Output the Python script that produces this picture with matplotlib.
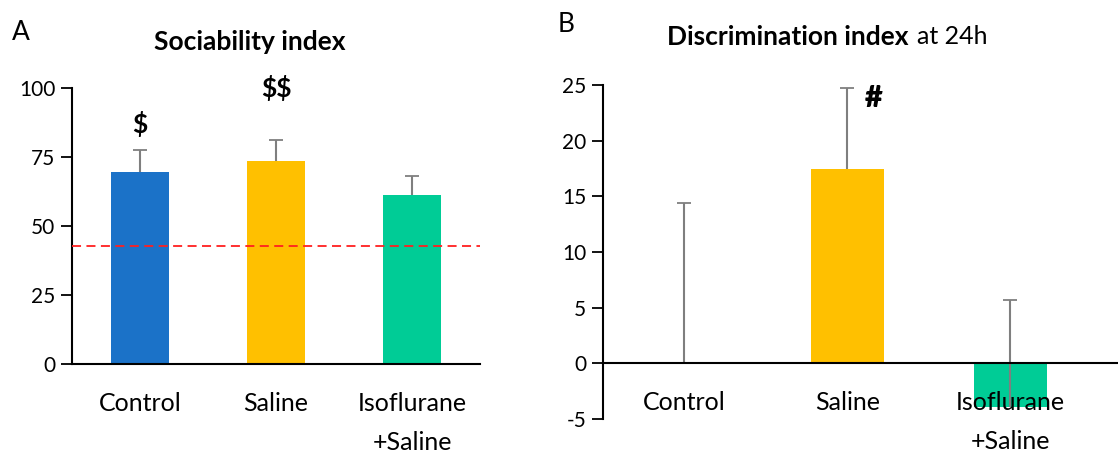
import matplotlib
matplotlib.use("Agg")
import matplotlib.pyplot as plt

plt.rcParams['font.family'] = ['Lato', 'DejaVu Sans']
plt.rcParams['text.parse_math'] = False
plt.rcParams['axes.unicode_minus'] = False

categories = ["Control", "Saline", "Isoflurane\n+Saline"]
colors = ["#1B72C8", "#FFC000", "#00CC96"]

soc_values = [69.6, 73.7, 61.2]
soc_err = [7.9, 7.5, 7.0]
soc_chance = 42.8
soc_marks = ["$", "$$", ""]
soc_mark_y = [87, 100, 0]

disc_values = [0.0, 17.45, -3.9]
disc_err = [14.4, 7.25, 9.55]
disc_marks = ["", "#", ""]
disc_mark_y = [0, 23.8, 0]

fig = plt.figure(figsize=(11.18, 4.53), dpi=100)


def upper_err(ax, xs, vals, errs):
    _, caps, _ = ax.errorbar(xs, vals, yerr=[[0]*len(vals), errs], fmt='none',
                             ecolor='#7F7F7F', elinewidth=1.5, capsize=5,
                             capthick=1.3, zorder=3)
    caps[0].set_visible(False)


def style(ax):
    for s in ['top', 'right']:
        ax.spines[s].set_visible(False)
    for s in ['left', 'bottom']:
        ax.spines[s].set_linewidth(1.5)
    ax.tick_params(axis='y', labelsize=15, length=8, width=1.3, pad=4, direction='out')
    ax.tick_params(axis='x', length=0, labelsize=18, pad=20)
    ax.set_xticks(list(range(len(categories))))
    ax.set_xticklabels(categories, linespacing=1.85, va='top')


x = list(range(len(categories)))

# Panel A
axA = fig.add_axes([72/1118, 1-364/453, (480-72)/1118, (364-88)/453])
axA.bar(x, soc_values, width=0.43, color=colors, zorder=1)
upper_err(axA, x, soc_values, soc_err)
axA.axhline(soc_chance, color='#FF2020', ls=(0, (5, 3)), lw=1.3, zorder=4)
axA.set_xlim(-0.5, 2.5)
axA.set_ylim(0, 100)
axA.set_yticks([0, 25, 50, 75, 100])
style(axA)
for i, m in enumerate(soc_marks):
    if m:
        axA.text(i, soc_mark_y[i], m, ha='center', va='center', fontsize=19, fontweight='bold')
fig.text(250/1118, 1-42/453, "Sociability index", ha='center', va='center',
         fontsize=19, fontweight='bold')
fig.text(21/1118, 1-32/453, "A", ha='center', va='center', fontsize=19)

# Panel B
axB = fig.add_axes([603/1118, 1-419/453, (1118-603)/1118, (419-85)/453])
axB.spines['bottom'].set_position(('data', 0))
axB.bar(x, disc_values, width=0.45, color=colors, zorder=1)
upper_err(axB, x, disc_values, disc_err)
axB.set_xlim(-0.5, 2.66)
axB.set_ylim(-5, 25)
axB.set_yticks([-5, 0, 5, 10, 15, 20, 25])
style(axB)
axB.spines['bottom'].set_zorder(5)
axB.xaxis.set_zorder(2.5)
for i, m in enumerate(disc_marks):
    if m:
        axB.text(i + 0.16, disc_mark_y[i], m, ha='center', va='center', fontsize=22, fontweight='heavy')
fig.text(667/1118, 1-37/453, "Discrimination index", ha='left', va='center',
         fontsize=19, fontweight='bold')
fig.text(917/1118, 1-37/453, "at 24h", ha='left', va='center', fontsize=18)
fig.text(566/1118, 1-25/453, "B", ha='center', va='center', fontsize=19)

fig.savefig("out.png", dpi=100)
